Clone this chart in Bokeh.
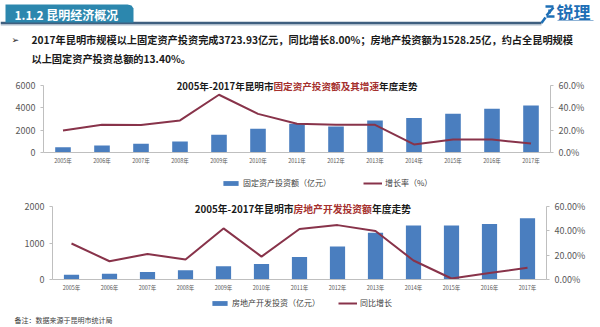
from bokeh.plotting import figure
from bokeh.models import (Range1d, FactorRange, LinearAxis, FixedTicker, PrintfTickFormatter,
                          Legend, LegendItem, Label)
from bokeh.layouts import column
from bokeh.core.properties import value
from bokeh.embed import file_html
from bokeh.resources import INLINE

# ---------------- data ----------------
years = ["2005年", "2006年", "2007年", "2008年", "2009年", "2010年", "2011年",
         "2012年", "2013年", "2014年", "2015年", "2016年", "2017年"]
fixed_invest = [475, 625, 780, 985, 1585, 2120, 2570, 2330, 2865, 3100, 3460, 3910, 4210]
fixed_growth = [19.7, 24.8, 24.6, 28.7, 51.7, 34.6, 25.7, 24.8, 24.8, 7.2, 11.6, 11.6, 8.0]
estate_invest = [130, 157, 207, 253, 360, 428, 618, 905, 1278, 1477, 1477, 1522, 1675]
estate_growth = [29.6, 15.0, 21.0, 16.4, 42.0, 18.8, 41.5, 44.7, 39.8, 15.6, 0.8, 5.3, 9.7]

top_left_ticks = [0, 2000, 4000, 6000]
bottom_left_ticks = [0, 1000, 2000]
pct_ticks = [0, 20, 40, 60]

header_tab = "1.1.2  昆明经济概况"
bullet_line1 = "2017年昆明市规模以上固定资产投资完成3723.93亿元，同比增长8.00%；房地产投资额为1528.25亿，约占全昆明规模"
bullet_line2 = "以上固定资产投资总额的13.40%。"
title1_parts = ["2005年-2017年昆明市", "固定资产投资额及其增速", "年度走势"]
title2_parts = ["2005年-2017年昆明市", "房地产开发投资额", "年度走势"]
legend1 = ["固定资产投资额（亿元）", "增长率（%）"]
legend2 = ["房地产开发投资（亿元）", "同比增长"]
footnote = "备注：数据来源于昆明市统计局"

FONT = "Noto Sans CJK SC"
BAR = "#4a7ebf"
LINE = "#88334a"
RED = "#a5302e"
AX = "#bfbfbf"
TXT = "#595959"


def no_align(p):
    try:
        p.frame_align = False
    except Exception:
        pass


def blank(height):
    p = figure(width=600, height=height, x_range=Range1d(0, 600), y_range=Range1d(0, height),
               output_backend="svg", toolbar_location=None, min_border=0,
               x_axis_location=None, y_axis_location=None, outline_line_color=None)
    p.grid.visible = False
    no_align(p)
    return p


# ---------------- header ----------------
h = figure(width=600, height=72, x_range=Range1d(0, 600), y_range=Range1d(72, 0),
           output_backend="svg", toolbar_location=None, min_border=0,
           x_axis_location=None, y_axis_location=None, outline_line_color=None)
h.grid.visible = False
no_align(h)
h.line([0, 541], [24.5, 24.5], line_color="#d5dde5", line_width=2)
h.line([0, 541], [22.5, 22.5], line_color="#3f5f7f", line_width=2.5)
h.patch([5, 5, 127, 131, 133, 133], [22, 4, 4, 5, 8, 22], fill_color="#2c87ae", line_color=None)
h.text(x=[14], y=[13.5], text=[header_tab], text_color="white", text_font=value(FONT),
       text_font_style="bold", text_font_size="12px", text_baseline="middle")
# logo
h.multi_line(xs=[[541, 545], [545, 553], [553, 546], [546, 554], [549, 549]],
             ys=[[22.5, 17], [6, 6], [7, 15], [16, 16], [9, 13]],
             line_color="#1e6fb6", line_width=2.5)
h.text(x=[556], y=[11], text=["锐理"], text_color="#1e6fb6", text_font=value(FONT),
       text_font_style="bold", text_font_size="17px", text_baseline="middle")
h.line([557, 593], [20, 20], line_color="#8fb3d6", line_width=1.2)
# bullet text
h.text(x=[11], y=[39], text=["➢"], text_color="#222222", text_font=value("DejaVu Sans"),
       text_font_size="9px", text_baseline="middle")
h.text(x=[31, 31], y=[39, 58], text=[bullet_line1, bullet_line2], text_color="#1a1a1a",
       text_font=value(FONT), text_font_style="bold", text_font_size="10.2px",
       text_baseline="middle")


def style_axis(ax, size):
    ax.axis_line_color = AX
    ax.major_tick_line_color = AX
    ax.major_tick_out = 3
    ax.major_tick_in = 0
    ax.minor_tick_line_color = None
    ax.major_label_text_font_size = size
    ax.major_label_text_color = TXT
    ax.major_label_text_font = FONT
    ax.major_label_standoff = 5


def make_chart(height, left, right, top, bottom, tick_px, lmax, lticks, bars, growth,
               pct_fmt, title_parts, title_fs, title_x, title_y):
    frame_h = height - top - bottom
    scale = frame_h / tick_px
    p = figure(width=600, height=height, x_range=FactorRange(factors=years),
               y_range=Range1d(0, lmax * scale), output_backend="svg", toolbar_location=None,
               min_border_left=left, min_border_right=right, min_border_top=top,
               min_border_bottom=bottom, outline_line_color=None)
    no_align(p)
    p.grid.visible = False
    p.extra_y_ranges = {"pct": Range1d(0, pct_ticks[-1] * scale)}
    p.add_layout(LinearAxis(y_range_name="pct"), "right")
    p.yaxis[0].ticker = FixedTicker(ticks=lticks)
    p.yaxis[0].bounds = (0, lmax)
    p.yaxis[1].ticker = FixedTicker(ticks=pct_ticks)
    p.yaxis[1].bounds = (0, pct_ticks[-1])
    p.yaxis[1].formatter = PrintfTickFormatter(format=pct_fmt)
    for ax in p.yaxis:
        style_axis(ax, "9px")
    xa = p.xaxis[0]
    style_axis(xa, "5.5px")
    xa.major_tick_line_color = None
    xa.major_tick_out = 0
    xa.major_label_standoff = 4
    xa.axis_label_standoff = 0
    rb = p.vbar(x=years, top=bars, width=0.4, fill_color=BAR, line_color=None)
    rl = p.line(x=years, y=growth, y_range_name="pct", line_color=LINE, line_width=2)
    fs = title_fs
    n2 = len(title_parts[1])
    for txt, x, align, col in [(title_parts[0], title_x, "right", "#1a1a1a"),
                               (title_parts[1], title_x, "left", RED),
                               (title_parts[2], title_x + n2 * fs, "left", "#1a1a1a")]:
        p.add_layout(Label(x=x, y=title_y, x_units="screen", y_units="screen",
                           text=txt, text_align=align, text_baseline="middle",
                           text_font=FONT, text_font_style="bold", text_font_size=f"{fs}px",
                           text_color=col))
    return p


def make_legend(height, labels, loc, spacing):
    p = blank(height)
    # key proxies placed off-canvas; only their styles are used by the legend
    rb = p.vbar(x=[-50], top=[-50], width=0.4, fill_color=BAR, line_color=None)
    rl = p.line(x=[-60, -50], y=[-5, -5], line_color=LINE, line_width=2)
    leg = Legend(items=[LegendItem(label=value(labels[0]), renderers=[rb]),
                        LegendItem(label=value(labels[1]), renderers=[rl])],
                 orientation="horizontal", location=loc, padding=0, margin=0,
                 spacing=spacing, glyph_width=19, glyph_height=6, label_height=10,
                 label_standoff=3, label_text_font=FONT, label_text_font_size="8px",
                 label_text_color="#404040", border_line_color=None,
                 background_fill_alpha=0)
    p.add_layout(leg, "center")
    return p


# top chart: canvas 72..170, frame 77..152, top tick (6000) at y=85
b = make_chart(98, 43, 50, 5, 18, 67, 6000, top_left_ticks, fixed_invest, fixed_growth,
               "%.1f%%", title1_parts, 9.6, 230, 67)
lb = make_legend(22, legend1, (221, 4), 32)

# bottom chart: canvas 192..295, frame 200..279, top tick (2000) at y=206
c = make_chart(103, 52, 54, 8, 16, 73, 2000, bottom_left_ticks, estate_invest, estate_growth,
               "%.2f%%", title2_parts, 9.8, 241, 71)
lc = make_legend(29, legend2, (210, 16), 18)
lc.add_layout(Label(x=14, y=4.5, x_units="screen", y_units="screen", text=footnote,
                    text_align="left", text_baseline="middle", text_font=FONT,
                    text_font_size="7px", text_color="#404040"))

band = blank(3)
band.background_fill_color = "#a9c6df"
band.border_fill_color = "#a9c6df"

layout = column(h, b, lb, c, lc, band, spacing=0)
open("out.html", "w").write(file_html(layout, INLINE))
